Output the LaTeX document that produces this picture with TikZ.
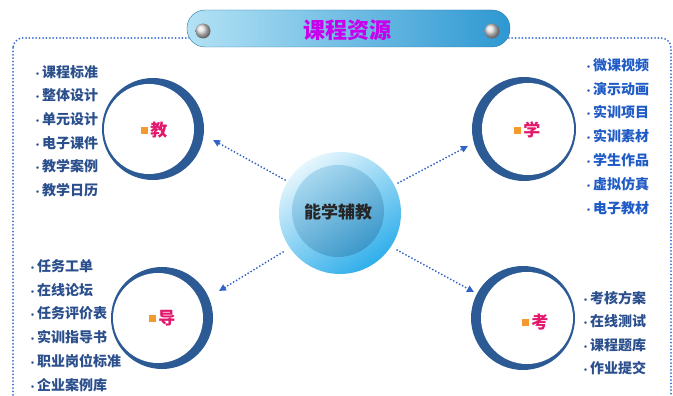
\documentclass[tikz,border=0pt]{standalone}
\usepackage{fontspec}
\setmainfont{Noto Sans CJK SC}
\usetikzlibrary{arrows.meta}
\definecolor{framec}{HTML}{3B6CD2}
\definecolor{arrowc}{HTML}{2F63C6}
\definecolor{ringc}{HTML}{2C5A94}
\definecolor{navy}{HTML}{2A4F8C}
\definecolor{vivid}{HTML}{1F5BC6}
\definecolor{sqc}{HTML}{F39A2E}
\definecolor{pkc}{HTML}{E2186C}
\definecolor{titlec}{HTML}{C800EE}
\definecolor{banL}{HTML}{B3E2F5}
\definecolor{banR}{HTML}{2E98D2}
\definecolor{cenA}{HTML}{E6F6FD}
\definecolor{cenB}{HTML}{2FAEEA}
\definecolor{inA}{HTML}{A8D8EF}
\definecolor{inB}{HTML}{3C98CA}
\tikzset{
  framedot/.style={draw=framec, line width=2pt, dash pattern=on 0pt off 3.4pt, line cap=round},
  arr/.style={draw=arrowc, line width=2pt, dash pattern=on 0pt off 3.4pt, line cap=round,
              -{Triangle[length=7pt,width=6.5pt]}},
  ring/.style={circle, fill=ringc, inner sep=0pt},
  lbl/.style={inner sep=0pt, font=\fontsize{17}{17}\selectfont\bfseries, text=pkc},
  litem/.style={anchor=west, inner sep=0pt, font=\fontsize{14}{14}\selectfont\bfseries},
  sphere/.style={circle, minimum size=15pt, inner sep=0pt, ball color=white!75!gray},
}
\newcommand{\sqmark}{\textcolor{sqc}{\raisebox{2.5pt}{\rule{7pt}{7pt}}}\hspace{2.5pt}}
\newcommand{\bul}{{\fontsize{9}{9}\selectfont •}}
\begin{document}
\begin{tikzpicture}[x=1pt,y=-1pt]
\useasboundingbox (0,0) rectangle (673,396);
\fill[white] (0,0) rectangle (673,396);
\clip (0,0) rectangle (673,396);
% frame
\draw[framedot, rounded corners=10pt] (13,38) rectangle (671,430);
% banner
\node[rounded corners=18pt, minimum width=323pt, minimum height=37pt, inner sep=0pt,
      left color=banL, right color=banR, draw=banR!80!black, line width=0.4pt]
  (ban) at (348.5,28.5) {};
\node[font=\fontsize{22}{22}\selectfont\bfseries, text=titlec] (title) at (347,30) {课程资源};
\node[sphere] (s1) at (203,31) {};
\node[sphere] (s2) at (492,31) {};
% center
\node[circle, minimum size=122pt, inner sep=0pt, top color=cenA, bottom color=cenB, shading angle=35] (cen) at (340,213) {};
\node[circle, minimum size=92pt, inner sep=0pt, top color=inA, bottom color=inB, shading angle=35] (cin) at (338,211) {};
\node[font=\fontsize{17}{17}\selectfont\bfseries, text=black!85] (ctext) at (338,212) {能学辅教};
% rings
\node[ring, minimum size=102pt] (jiao) at (153,129) {};
\fill[white] (149,129) circle (45pt);
\node[ring, minimum size=104pt] (xue) at (524,129) {};
\fill[white] (528,129) circle (46pt);
\node[ring, minimum size=102pt] (dao) at (162,318) {};
\fill[white] (158,318) circle (45pt);
\node[ring, minimum size=104pt] (kao) at (523,318) {};
\fill[white] (527,318) circle (46pt);
% labels
\node[lbl] (jiaol) at (154,130) {\sqmark 教};
\node[lbl] (xuel) at (527,130) {\sqmark 学};
\node[lbl] (daol) at (162,318) {\sqmark 导};
\node[lbl] (kaol) at (535,322) {\sqmark 考};
% arrow end points
\coordinate (a1s) at (285,180); \coordinate (a1e) at (213,140);
\coordinate (a2s) at (398,183); \coordinate (a2e) at (468,146);
\coordinate (a3s) at (283,252); \coordinate (a3e) at (219,291);
\coordinate (a4s) at (397,250); \coordinate (a4e) at (474,292);
\draw[arr] (a1s) -- (a1e);
\draw[arr] (a2s) -- (a2e);
\draw[arr] (a3s) -- (a3e);
\draw[arr] (a4s) -- (a4e);
% lists
\foreach \t [count=\i] in {课程标准,整体设计,单元设计,电子课件,教学案例,教学日历}
  \node[litem, text=navy] (tl\i) at (33,{72+23.6*(\i-1)}) {\bul\t};
\foreach \t [count=\i] in {微课视频,演示动画,实训项目,实训素材,学生作品,虚拟仿真,电子教材}
  \node[litem, text=vivid] (tr\i) at (584,{65+23.8*(\i-1)}) {\bul\t};
\foreach \t [count=\i] in {任务工单,在线论坛,任务评价表,实训指导书,职业岗位标准,企业案例库}
  \node[litem, text=navy] (bl\i) at (28,{266+23.8*(\i-1)}) {\bul\t};
\foreach \t [count=\i] in {考核方案,在线测试,课程题库,作业提交}
  \node[litem, text=navy] (br\i) at (581,{298+23.4*(\i-1)}) {\bul\t};
\end{tikzpicture}
\end{document}
